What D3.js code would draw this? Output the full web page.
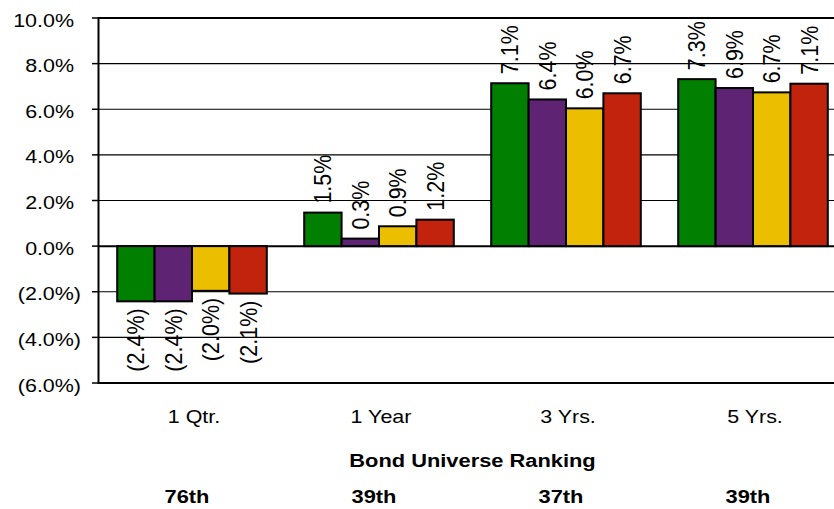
<!DOCTYPE html>
<html>
<head>
<meta charset="utf-8">
<script src="https://cdn.jsdelivr.net/npm/d3@7"></script>
<style>
  html, body { margin: 0; padding: 0; background: #fff; }
  svg { display: block; }
  text { font-family: "Liberation Sans", Arial, sans-serif; fill: #000; }
</style>
</head>
<body>
<div id="chart"></div>
<script>
// ---- data ----
const categories = ["1 Qtr.", "1 Year", "3 Yrs.", "5 Yrs."];
const seriesNames = ["Series 1", "Series 2", "Series 3", "Series 4"];
const seriesColors = ["#007f00", "#5e2373", "#ebbf00", "#c2230c"];
const series1 = [-2.42, 1.47, 7.14, 7.32];
const series2 = [-2.42, 0.33, 6.43, 6.93];
const series3 = [-1.96, 0.87, 6.04, 6.74];
const series4 = [-2.08, 1.16, 6.70, 7.12];
const yTicks = [10, 8, 6, 4, 2, 0, -2, -4, -6];
const rankingTitle = "Bond Universe Ranking";
const rankings = ["76th", "39th", "37th", "39th"];

const allSeries = [series1, series2, series3, series4];

const W = 834, H = 509;
const svg = d3.select("#chart").append("svg").attr("width", W).attr("height", H);

const y = d3.scaleLinear().domain([-6, 10]).range([383, 18]);
const x0 = d3.scaleBand().domain(categories).range([98.5, 846.5]).paddingInner(0.2).paddingOuter(0.1);
const x1 = d3.scaleBand().domain(seriesNames).range([0, x0.bandwidth()]);

const SX = 1.16; // horizontal text stretch

function fmtAxis(v) {
  const s = Math.abs(v).toFixed(1) + "%";
  return v < 0 ? "(" + s + ")" : s;
}
function fmtLabel(v) {
  const s = Math.abs(v).toFixed(1) + "%";
  return v < 0 ? "(" + s + ")" : s;
}

// gridlines
svg.append("g").selectAll("line").data(yTicks).join("line")
  .attr("x1", 98).attr("x2", W)
  .attr("y1", d => y(d)).attr("y2", d => y(d))
  .attr("stroke", "#000")
  .attr("stroke-width", d => (d === 10 || d === 0 || d === -6) ? 2 : 1.2);

// y ticks
svg.append("g").selectAll("line").data(yTicks).join("line")
  .attr("x1", 92).attr("x2", 98)
  .attr("y1", d => y(d)).attr("y2", d => y(d))
  .attr("stroke", "#000").attr("stroke-width", 1.5);

// y tick labels
svg.append("g").selectAll("text").data(yTicks).join("text")
  .attr("transform", d => `translate(${d < 0 ? 81 : 74},${y(d) + 8.5}) scale(${SX},1)`)
  .attr("text-anchor", "end")
  .style("font-size", "18.5px")
  .text(d => fmtAxis(d));

// bars
const groups = svg.append("g").selectAll("g").data(categories).join("g")
  .attr("transform", d => `translate(${x0(d)},0)`);

groups.selectAll("rect").data((c, ci) => allSeries.map((s, si) => ({ v: s[ci], si })))
  .join("rect")
  .attr("x", d => x1(seriesNames[d.si]))
  .attr("width", x1.bandwidth())
  .attr("y", d => y(Math.max(0, d.v)))
  .attr("height", d => Math.abs(y(d.v) - y(0)))
  .attr("fill", d => seriesColors[d.si])
  .attr("stroke", "#000").attr("stroke-width", 2);

// data labels (rotated)
groups.selectAll("text").data((c, ci) => allSeries.map((s, si) => ({ v: s[ci], si })))
  .join("text")
  .attr("transform", d => {
    const cx = x1(seriesNames[d.si]) + x1.bandwidth() / 2;
    const cy = d.v >= 0 ? y(d.v) - 9 : y(d.v) + 7;
    return `translate(${cx},${cy}) scale(1.1,1) rotate(-90)`;
  })
  .attr("dy", "0.36em")
  .attr("text-anchor", d => d.v >= 0 ? "start" : "end")
  .style("font-size", "21.5px")
  .text(d => fmtLabel(d.v));

// y axis line
svg.append("line").attr("x1", 98.5).attr("x2", 98.5).attr("y1", 17).attr("y2", 384)
  .attr("stroke", "#000").attr("stroke-width", 2);

// category labels
svg.append("g").selectAll("text").data(categories).join("text")
  .attr("transform", d => `translate(${x0(d) + x0.bandwidth() / 2 + 2},423) scale(${SX},1)`)
  .attr("text-anchor", "middle")
  .style("font-size", "18.5px")
  .text(d => d);

// ranking title
svg.append("text")
  .attr("transform", `translate(${(x0(categories[1]) + x0(categories[2]) + x0.bandwidth()) / 2},467) scale(1.15,1)`)
  .attr("text-anchor", "middle")
  .style("font-size", "19px").style("font-weight", "bold")
  .text(rankingTitle);

// rankings
svg.append("g").selectAll("text").data(rankings).join("text")
  .attr("transform", (d, i) => `translate(${x0(categories[i]) + x0.bandwidth() / 2 - 5},503) scale(1.15,1)`)
  .attr("text-anchor", "middle")
  .style("font-size", "19px").style("font-weight", "bold")
  .text(d => d);
</script>
</body>
</html>
